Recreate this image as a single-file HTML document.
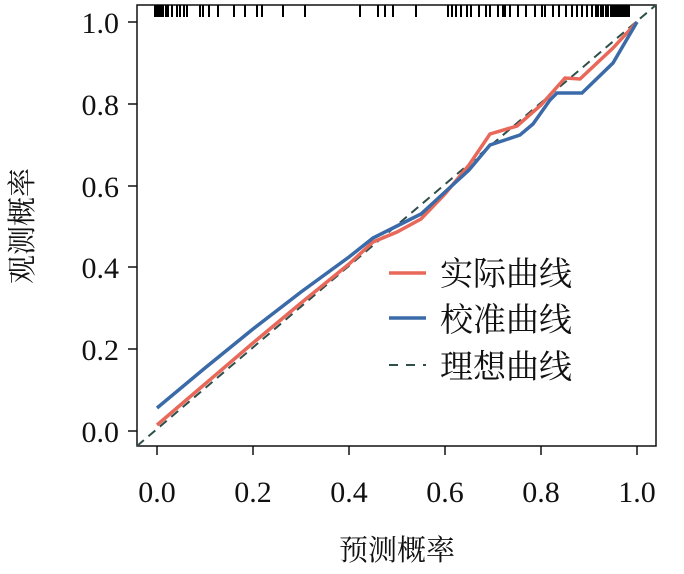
<!DOCTYPE html>
<html><head><meta charset="utf-8"><style>
body{margin:0;background:#fff}
svg text{font-family:"Liberation Serif","Noto Serif CJK SC",serif;fill:#111}
</style></head><body>
<svg width="684" height="569" viewBox="0 0 684 569" xmlns="http://www.w3.org/2000/svg">
<rect x="137" y="5" width="519" height="441" fill="none" stroke="#111" stroke-width="1.5"/>
<g stroke="#111" stroke-width="1.5">
<line x1="157" y1="446" x2="157" y2="455"/><line x1="253" y1="446" x2="253" y2="455"/><line x1="349" y1="446" x2="349" y2="455"/><line x1="445" y1="446" x2="445" y2="455"/><line x1="541" y1="446" x2="541" y2="455"/><line x1="637" y1="446" x2="637" y2="455"/>
<line x1="128" y1="431" x2="137" y2="431"/><line x1="128" y1="349" x2="137" y2="349"/><line x1="128" y1="267" x2="137" y2="267"/><line x1="128" y1="186" x2="137" y2="186"/><line x1="128" y1="104" x2="137" y2="104"/><line x1="128" y1="22" x2="137" y2="22"/>
</g>
<g font-size="30" text-anchor="middle">
<text x="157" y="502">0.0</text><text x="253" y="502">0.2</text><text x="349" y="502">0.4</text><text x="445" y="502">0.6</text><text x="541" y="502">0.8</text><text x="637" y="502">1.0</text>
</g>
<g font-size="30" text-anchor="end">
<text x="119" y="442">0.0</text><text x="119" y="360">0.2</text><text x="119" y="278">0.4</text><text x="119" y="197">0.6</text><text x="119" y="115">0.8</text><text x="119" y="33">1.0</text>
</g>
<text x="397" y="560" font-size="29" text-anchor="middle">预测概率</text>
<text transform="translate(32,226) rotate(-90)" font-size="29" text-anchor="middle">观测概率</text>
<g stroke="#000" stroke-width="2">
<path d="M155 5v12M157 5v12M159 5v12M161 5v12M163 5v12M166 5v12M168 5v12M172 5v12M177 5v12M180 5v12M184 5v12M187 5v12M200 5v12M203 5v12M209 5v12M218 5v12M234 5v12M245 5v12M257 5v12M262 5v12M283 5v12M305 5v12M360 5v12M378 5v12M385 5v12M393 5v12M416 5v12M448 5v12M452 5v12M456 5v12M461 5v12M467 5v12M471 5v12M479 5v12M486 5v12M490 5v12M498 5v12M503 5v12M505 5v12M510 5v12M518 5v12M526 5v12M535 5v12M542 5v12M545 5v12M553 5v12M559 5v12M566 5v12M572 5v12M577 5v12M582 5v12M587 5v12M592 5v12M596 5v12M598 5v12M601 5v12M603 5v12M606 5v12M608 5v12M611 5v12M613 5v12M615 5v12M617 5v12M619 5v12M621 5v12M623 5v12M625 5v12M627 5v12M629 5v12"/>
</g>
<line x1="137" y1="446" x2="656" y2="5" stroke="#2f4f4a" stroke-width="2" stroke-dasharray="9,6"/>
<polyline fill="none" stroke="#e8685a" stroke-width="3.5" points="157,425 205,384 253,343 301,303 349,264 373,242 397,232 421,219 445,194 469,165 490,134 517,126 541,105 565,78 580,79 613,48 637,22"/>
<polyline fill="none" stroke="#3a6aa8" stroke-width="3.5" points="157,408 205,368 253,329 301,292 349,257 373,238 397,226 421,214 445,192 469,170 490,145 520,135 533,124 550,100 557,93 582,93 613,63 637,22"/>
<line x1="389" y1="273" x2="426" y2="273" stroke="#e8685a" stroke-width="3.5"/>
<line x1="389" y1="318" x2="426" y2="318" stroke="#3a6aa8" stroke-width="3.5"/>
<line x1="389" y1="365" x2="426" y2="365" stroke="#2f4f4a" stroke-width="2" stroke-dasharray="9,8"/>
<g font-size="33">
<text x="440" y="285">实际曲线</text><text x="440" y="331">校准曲线</text><text x="440" y="378">理想曲线</text>
</g>
</svg>
</body></html>
